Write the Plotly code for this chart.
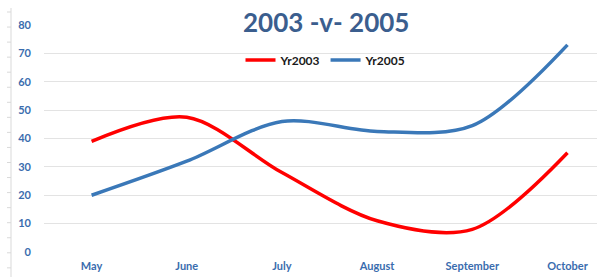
import plotly.graph_objects as go

months = ["May", "June", "July", "August", "September", "October"]
yr2003 = [39, 47.5, 28, 11, 8, 35]
yr2005 = [20, 32, 46, 42.5, 44.5, 73]
y_ticks = [0, 10, 20, 30, 40, 50, 60, 70, 80]

W, H = 597, 277
L, R, T, B = 44, 0, 25, 25
PW, PH = W - L - R, H - T - B


def px(x):
    return (x - L) / PW


def py(y):
    return (H - B - y) / PH


xs = list(range(len(months)))
fig = go.Figure()
fig.add_trace(go.Scatter(x=xs, y=yr2003, name="Yr2003", mode="lines",
                         line=dict(color="#ff0000", width=3.5, shape="spline", smoothing=0.9)))
fig.add_trace(go.Scatter(x=xs, y=yr2005, name="Yr2005", mode="lines",
                         line=dict(color="#3a78b8", width=3.5, shape="spline", smoothing=0.9)))

tick_font = dict(family="Lato", size=11, color="#3a6cae", weight="bold")

shapes = [
    # white title box covering the top gridline
    dict(type="rect", xref="paper", yref="paper", x0=px(88), x1=px(566), y0=py(45), y1=py(0),
         fillcolor="white", line=dict(width=0), layer="between"),
    # faint decorative left axis
    dict(type="line", xref="paper", yref="paper", x0=px(11), x1=px(11), y0=py(8), y1=py(277),
         line=dict(color="#d9d9d9", width=1)),
]
for i in range(18):
    yy = 12 + i * 15.05
    shapes.append(dict(type="line", xref="paper", yref="paper", x0=px(7), x1=px(11),
                       y0=py(yy), y1=py(yy), line=dict(color="#d9d9d9", width=1)))

fig.update_layout(
    width=W, height=H,
    margin=dict(l=L, r=R, t=T, b=B),
    paper_bgcolor="white", plot_bgcolor="white",
    showlegend=True,
    legend=dict(orientation="h", x=px(326), xanchor="center", y=py(60), yanchor="middle",
                font=dict(family="Lato", size=12, color="#1a1a1a", weight="bold"),
                bgcolor="rgba(0,0,0,0)", itemwidth=30, traceorder="normal"),
    xaxis=dict(range=[-0.5, 5.31], tickmode="array", tickvals=xs, ticktext=months,
               tickfont=tick_font, showgrid=False, zeroline=False, showline=False,
               ticks="", ticklabelstandoff=6),
    yaxis=dict(range=[0, 80], tickmode="array", tickvals=y_ticks, tickfont=tick_font,
               showgrid=True, gridcolor="#e3e3e3", gridwidth=1, zeroline=False,
               showline=False, ticks="", ticklabelstandoff=12),
    shapes=shapes,
    annotations=[dict(text="<b>2003 -v- 2005</b>", xref="paper", yref="paper",
                      x=px(326), y=py(22), xanchor="center", yanchor="middle",
                      showarrow=False, font=dict(family="Lato", size=26, color="#3b5e8e"))],
)

fig.write_html("out.html", config={"displayModeBar": False},
               post_script="document.body.style.margin='0';document.body.style.padding='0';")
